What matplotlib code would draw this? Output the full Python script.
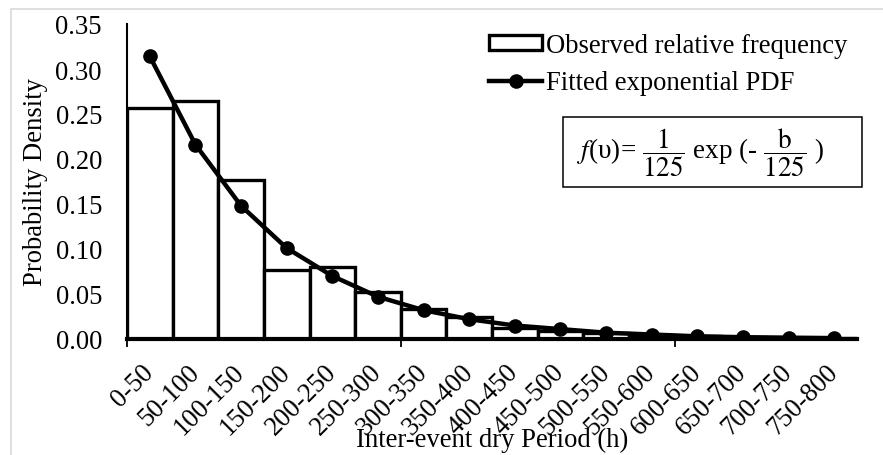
import matplotlib
matplotlib.use("Agg")
import matplotlib.pyplot as plt
from matplotlib.patches import Rectangle
import numpy as np

# # DATA

# dry spell duration classes (h)
classes = ['0-50', '50-100', '100-150', '150-200', '200-250', '250-300',
           '300-350', '350-400', '400-450', '450-500', '500-550', '550-600',
           '600-650', '650-700', '700-750', '750-800']

# observed relative frequency per class
observed = [0.257, 0.264, 0.177, 0.077, 0.080, 0.052, 0.033, 0.025,
            0.012, 0.009, 0.007, 0.005, 0.003, 0.002, 0.001, 0.001]

# fitted exponential density at the class midpoints
fitted = [0.314, 0.216, 0.148, 0.101, 0.070, 0.047, 0.032, 0.022,
          0.015, 0.011, 0.007, 0.005, 0.003, 0.002, 0.0015, 0.001]

y_ticks = [0.00, 0.05, 0.10, 0.15, 0.20, 0.25, 0.30, 0.35]

# # STYLE

plt.rcParams['font.family'] = ['Liberation Serif', 'DejaVu Serif']
plt.rcParams['mathtext.fontset'] = 'stix'
fs = 19.2

W, H = 883, 456
fig = plt.figure(figsize=(W / 100, H / 100), dpi=100)
ax = fig.add_axes([127 / W, 1 - 340 / H, 730 / W, 315 / H])

# # PLOTTING

x = np.arange(len(classes))
bars = ax.bar(x, observed, width=1.0, facecolor='white', edgecolor='black',
              linewidth=2.4, label='Observed relative frequency', zorder=2)
line, = ax.plot(x, fitted, color='black', lw=3.2, marker='o', ms=9.5,
                label='Fitted exponential PDF', zorder=3)

ax.set_xlim(-0.5, len(classes) - 0.5)
ax.set_ylim(0, 0.35)

ax.set_yticks(y_ticks)
ax.set_yticklabels([f'{v:.2f}' for v in y_ticks])
ax.tick_params(axis='y', length=0, pad=18, labelsize=fs)

# labels sit under each class, tick marks every six classes
ax.set_xticks(x)
ax.set_xticklabels(classes)
ax.tick_params(axis='x', which='major', length=0, pad=21, labelsize=fs)
ax.set_xticks([-0.5, 5.5, 11.5], minor=True)
ax.tick_params(axis='x', which='minor', length=6, width=1.3)
for lab in ax.get_xticklabels():
    lab.set_rotation(45)
    lab.set_ha('right')
    lab.set_va('center')
    lab.set_rotation_mode('anchor')

for side in ['top', 'right']:
    ax.spines[side].set_visible(False)
ax.spines['left'].set_linewidth(1.5)
ax.spines['bottom'].set_linewidth(3)
ax.spines['bottom'].set_zorder(4)

fig.text(36 / W, 1 - 182 / H, 'Probability Density', rotation=90,
         ha='center', va='center', fontsize=fs)
fig.text(492 / W, 1 - 440 / H, 'Inter-event dry Period (h)',
         ha='center', va='center', fontsize=fs)

ax.legend(handles=[bars, line],
          loc='upper left', bbox_to_anchor=(489 / W, 1 - 34 / H),
          bbox_transform=fig.transFigure, frameon=False, fontsize=fs,
          handlelength=2.0, handleheight=0.45, handletextpad=0.12,
          labelspacing=0.45, borderpad=0, borderaxespad=0)

# formula box
fig.add_artist(Rectangle((563 / W, 1 - 188 / H), 299 / W, 70 / H,
                         transform=fig.transFigure, fill=False,
                         edgecolor='black', linewidth=1.1))
fig.text(701 / W, 1 - 153 / H,
         r'$f$(υ)= $\dfrac{1}{125}$ exp (- $\dfrac{\mathrm{b}}{125}$ )',
         ha='center', va='center', fontsize=19.5)

# chart area border
fig.add_artist(Rectangle((11 / W, -0.1), 2, 1.1 - 10 / H,
                         transform=fig.transFigure, fill=False,
                         edgecolor='#d9d9d9', linewidth=1.2))

plt.savefig('out.png', dpi=100)
plt.close()
